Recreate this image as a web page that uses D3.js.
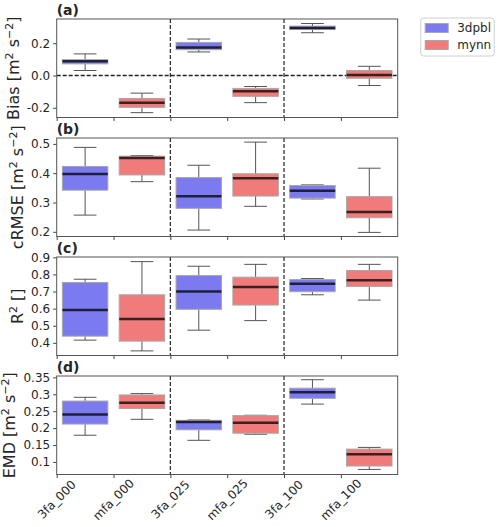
<!DOCTYPE html>
<html>
<head>
<meta charset="utf-8">
<script src="https://cdn.jsdelivr.net/npm/d3@7"></script>
<style>
  body { margin: 0; background: #fff; }
  text { font-family: "DejaVu Sans", sans-serif; fill: #262626; }
</style>
</head>
<body>
<div class="main"></div>
<script>
// categories along x and which run each belongs to
var categories = ['3fa_000', 'mfa_000', '3fa_025', 'mfa_025', '3fa_100', 'mfa_100'];
var series = ['3dpbl', 'mynn', '3dpbl', 'mynn', '3dpbl', 'mynn'];
var legendNames = ['3dpbl', 'mynn'];

// box stats: [whisker low, q1, median, q3, whisker high]
var biasStats = [
    [0.031, 0.072, 0.088, 0.098, 0.134],
    [-0.230, -0.197, -0.168, -0.142, -0.109],
    [0.146, 0.160, 0.174, 0.205, 0.226],
    [-0.168, -0.129, -0.098, -0.080, -0.068],
    [0.265, 0.285, 0.295, 0.306, 0.322],
    [-0.062, -0.017, 0.003, 0.031, 0.057]
];
var crmseStats = [
    [0.257, 0.342, 0.397, 0.423, 0.488],
    [0.371, 0.394, 0.452, 0.458, 0.460],
    [0.206, 0.280, 0.321, 0.385, 0.427],
    [0.287, 0.322, 0.383, 0.398, 0.506],
    [0.312, 0.315, 0.340, 0.358, 0.360],
    [0.198, 0.248, 0.268, 0.320, 0.417]
];
var r2Stats = [
    [0.416, 0.439, 0.592, 0.753, 0.772],
    [0.353, 0.410, 0.540, 0.681, 0.875],
    [0.474, 0.596, 0.700, 0.794, 0.848],
    [0.530, 0.621, 0.726, 0.784, 0.859],
    [0.681, 0.699, 0.745, 0.770, 0.776],
    [0.650, 0.730, 0.766, 0.823, 0.859]
];
var emdStats = [
    [0.179, 0.212, 0.240, 0.280, 0.291],
    [0.226, 0.258, 0.275, 0.298, 0.302],
    [0.164, 0.195, 0.218, 0.223, 0.224],
    [0.182, 0.185, 0.216, 0.237, 0.238],
    [0.271, 0.288, 0.306, 0.318, 0.343],
    [0.078, 0.088, 0.123, 0.138, 0.143]
];

var biasTicks = [-0.2, 0.0, 0.2];
var biasTickLabels = ['-0.2', '0.0', '0.2'];
var crmseTicks = [0.2, 0.3, 0.4, 0.5];
var crmseTickLabels = ['0.2', '0.3', '0.4', '0.5'];
var r2Ticks = [0.4, 0.5, 0.6, 0.7, 0.8, 0.9];
var r2TickLabels = ['0.4', '0.5', '0.6', '0.7', '0.8', '0.9'];
var emdTicks = [0.1, 0.15, 0.2, 0.25, 0.3, 0.35];
var emdTickLabels = ['0.1', '0.15', '0.2', '0.25', '0.3', '0.35'];

var panels = [
    { tag: '(a)', name: 'Bias', stats: biasStats, domain: [-0.26, 0.35], ticks: biasTicks, labels: biasTickLabels, zero: true },
    { tag: '(b)', name: 'cRMSE', stats: crmseStats, domain: [0.184, 0.52], ticks: crmseTicks, labels: crmseTickLabels },
    { tag: '(c)', name: 'R2', stats: r2Stats, domain: [0.326, 0.902], ticks: r2Ticks, labels: r2TickLabels },
    { tag: '(d)', name: 'EMD', stats: emdStats, domain: [0.063, 0.354], ticks: emdTicks, labels: emdTickLabels }
];

var options = {
    width: 500,
    height: 527,
    left: 56.7,
    right: 397.7,
    tops: [19, 138, 257, 376],
    panelH: 98.5
};

var color = d3.scaleOrdinal().domain(legendNames).range(['#7b7bef', '#ef7b7b']);

var svg = d3.select('.main')
    .append('svg')
    .attr('width', options.width)
    .attr('height', options.height);

var x = d3.scaleLinear().domain([0, categories.length]).range([options.left, options.right]);
var slot = x(1) - x(0);
var boxW = slot * 0.8;
var capW = boxW * 0.5;

panels.forEach(function (p, k) {
    var top = options.tops[k];
    var y = d3.scaleLinear().domain(p.domain).range([top + options.panelH, top]);
    var g = svg.append('g');

    // y axis
    var yAxis = g.append('g')
        .attr('transform', 'translate(' + options.left + ',0)')
        .call(d3.axisLeft(y).tickValues(p.ticks).tickSize(3.5).tickPadding(3)
            .tickFormat(function (d, i) { return p.labels[i]; }));
    yAxis.select('.domain').remove();
    yAxis.selectAll('line').style('stroke', '#444');
    yAxis.selectAll('text').style('font-size', '12px').style('font-family', '"DejaVu Sans"').style('fill', '#262626');

    // x axis ticks
    var xAxis = g.append('g')
        .attr('transform', 'translate(0,' + (top + options.panelH) + ')')
        .call(d3.axisBottom(x).tickValues(d3.range(categories.length)).tickSize(3.5).tickFormat(''));
    xAxis.select('.domain').remove();
    xAxis.selectAll('line').style('stroke', '#444');

    if (k === panels.length - 1) {
        g.selectAll('.xlab')
            .data(categories)
            .enter()
            .append('text')
            .attr('class', 'xlab')
            .attr('transform', function (d, i) {
                return 'translate(' + [x(i), top + options.panelH + 25] + ') rotate(-45)';
            })
            .attr('text-anchor', 'middle')
            .attr('dy', '0.35em')
            .style('font-size', '12px')
            .text(function (d) { return d; });
    }

    // separators
    [2, 4].forEach(function (i) {
        g.append('line')
            .attr('x1', x(i)).attr('x2', x(i))
            .attr('y1', top).attr('y2', top + options.panelH)
            .style('stroke', '#333')
            .style('stroke-width', 1.3)
            .style('stroke-dasharray', '4,2');
    });
    if (p.zero) {
        g.append('line')
            .attr('x1', options.left).attr('x2', options.right)
            .attr('y1', y(0)).attr('y2', y(0))
            .style('stroke', '#222')
            .style('stroke-width', 1.3)
            .style('stroke-dasharray', '4,2');
    }

    // boxes
    var boxes = g.selectAll('.box')
        .data(p.stats)
        .enter()
        .append('g')
        .attr('class', 'box')
        .attr('transform', function (d, i) {
            return 'translate(' + x(i + 0.5) + ',0)';
        });

    boxes.append('line')
        .attr('x1', 0).attr('x2', 0)
        .attr('y1', function (d) { return y(d[0]); })
        .attr('y2', function (d) { return y(d[1]); })
        .style('stroke', '#555');
    boxes.append('line')
        .attr('x1', 0).attr('x2', 0)
        .attr('y1', function (d) { return y(d[3]); })
        .attr('y2', function (d) { return y(d[4]); })
        .style('stroke', '#555');
    boxes.append('line')
        .attr('x1', -capW / 2).attr('x2', capW / 2)
        .attr('y1', function (d) { return y(d[0]); })
        .attr('y2', function (d) { return y(d[0]); })
        .style('stroke', '#555');
    boxes.append('line')
        .attr('x1', -capW / 2).attr('x2', capW / 2)
        .attr('y1', function (d) { return y(d[4]); })
        .attr('y2', function (d) { return y(d[4]); })
        .style('stroke', '#555');
    boxes.append('rect')
        .attr('x', -boxW / 2)
        .attr('width', boxW)
        .attr('y', function (d) { return y(d[3]); })
        .attr('height', function (d) { return Math.max(y(d[1]) - y(d[3]), 0.5); })
        .style('fill', function (d, i) { return color(series[i]); })
        .style('stroke', '#a8a8a8')
        .style('stroke-width', 1);
    boxes.append('line')
        .attr('x1', -boxW / 2).attr('x2', boxW / 2)
        .attr('y1', function (d) { return y(d[2]); })
        .attr('y2', function (d) { return y(d[2]); })
        .style('stroke', '#000')
        .style('stroke-opacity', 0.75)
        .style('stroke-width', 2.5);

    // frame
    g.append('rect')
        .attr('x', options.left)
        .attr('y', top)
        .attr('width', options.right - options.left)
        .attr('height', options.panelH)
        .style('fill', 'none')
        .style('stroke', '#555')
        .style('stroke-width', 1);

    // panel tag
    g.append('text')
        .attr('x', options.left)
        .attr('y', top - 4)
        .style('font-size', '14px')
        .style('font-weight', 'bold')
        .text(p.tag);

    // y label, placed left of the tick labels
    var bb = yAxis.node().getBBox();
    var lab = g.append('text')
        .attr('transform', 'translate(' + [options.left + bb.x - 8, top + options.panelH / 2] + ') rotate(-90)')
        .attr('text-anchor', 'middle')
        .style('font-size', '16px');
    if (p.name === 'R2') {
        lab.append('tspan').text('R');
        lab.append('tspan').attr('baseline-shift', 'super').style('font-size', '11px').text('2');
        lab.append('tspan').text(' []');
    } else {
        lab.append('tspan').text(p.name + ' [m');
        lab.append('tspan').attr('baseline-shift', 'super').style('font-size', '11px').text('2');
        lab.append('tspan').text(' s');
        lab.append('tspan').attr('baseline-shift', 'super').style('font-size', '11px').text('\u22122');
        lab.append('tspan').text(']');
    }
});

// legend
var legend = svg.append('g').attr('transform', 'translate(420.7,18)');
legend.append('rect')
    .attr('width', 73.5)
    .attr('height', 38)
    .attr('rx', 3)
    .style('fill', '#fff')
    .style('stroke', '#d0d0d0');
var items = legend.selectAll('.item')
    .data(legendNames)
    .enter()
    .append('g')
    .attr('class', 'item')
    .attr('transform', function (d, i) { return 'translate(4.5,' + (5.5 + i * 17) + ')'; });
items.append('rect')
    .attr('width', 23)
    .attr('height', 9)
    .style('fill', function (d) { return color(d); })
    .style('stroke', '#a8a8a8');
items.append('text')
    .attr('x', 32)
    .attr('y', 4.5)
    .attr('dy', '0.35em')
    .style('font-size', '12px')
    .text(function (d) { return d; });
</script>
</body>
</html>
